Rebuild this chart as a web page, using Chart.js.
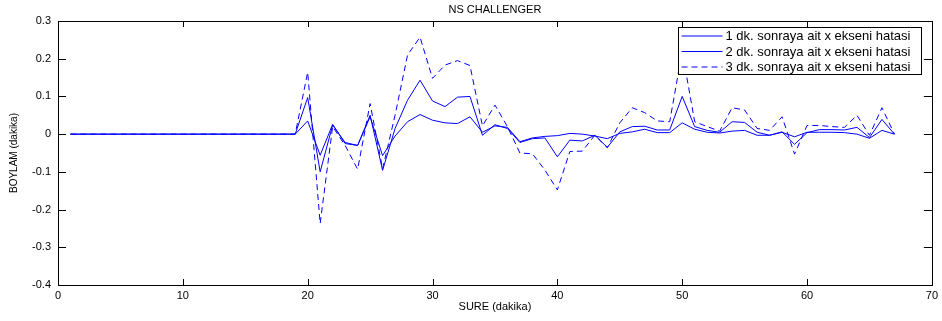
<!DOCTYPE html>
<html>
<head>
<meta charset="utf-8">
<title>NS CHALLENGER</title>
<script src="https://cdn.jsdelivr.net/npm/chart.js@4.4.0/dist/chart.umd.min.js"></script>
<style>
  html, body { margin: 0; padding: 0; background: #fff; }
  #wrap { width: 942px; height: 321px; }
</style>
</head>
<body>
<div id="wrap"><canvas id="nsChart"></canvas></div>
<script>
// zaman (dakika)
const minutes = [1, 2, 3, 4, 5, 6, 7, 8, 9, 10, 11, 12, 13, 14, 15, 16, 17, 18, 19, 20,
  21, 22, 23, 24, 25, 26, 27, 28, 29, 30, 31, 32, 33, 34, 35, 36, 37, 38, 39, 40,
  41, 42, 43, 44, 45, 46, 47, 48, 49, 50, 51, 52, 53, 54, 55, 56, 57, 58, 59, 60,
  61, 62, 63, 64, 65, 66, 67];

// boylam hatasi, 1 / 2 / 3 dk. sonrasi
const err1 = [0, 0, 0, 0, 0, 0, 0, 0, 0, 0, 0, 0, 0, 0, 0, 0, 0, 0, 0, 0.035,
  -0.056, 0.026, -0.025, -0.03, 0.046, -0.057, -0.005, 0.033, 0.052, 0.037,
  0.03, 0.028, 0.046, 0.005, 0.022, 0.018, -0.02, -0.01, -0.006, -0.004,
  0.002, 0, -0.005, -0.012, 0.002, 0.006, 0.013, 0.004, 0.004, 0.03,
  0.013, 0.005, 0.003, 0.008, 0.01, -0.003, -0.003, 0.005, -0.007, 0.005,
  0.005, 0.005, 0.004, 0, -0.011, 0.01, 0];
const err2 = [0, 0, 0, 0, 0, 0, 0, 0, 0, 0, 0, 0, 0, 0, 0, 0, 0, 0, 0, 0.097,
  -0.1, 0.024, -0.022, -0.03, 0.05, -0.096, 0.015, 0.09, 0.143, 0.088,
  0.073, 0.098, 0.1, -0.003, 0.025, 0.015, -0.022, -0.012, -0.01, -0.06,
  -0.016, -0.018, -0.003, -0.035, 0.006, 0.02, 0.021, 0.011, 0.011, 0.1,
  0.02, 0.01, 0.005, 0.033, 0.031, 0.005, -0.003, 0.006, -0.027, 0.004,
  0.012, 0.012, 0.011, 0.018, -0.009, 0.039, 0];
const err3 = [0, 0, 0, 0, 0, 0, 0, 0, 0, 0, 0, 0, 0, 0, 0, 0, 0, 0, 0, 0.164,
  -0.237, 0.02, -0.03, -0.093, 0.081, -0.092, 0.05, 0.21, 0.257, 0.148,
  0.183, 0.195, 0.182, 0.022, 0.077, 0.02, -0.05, -0.052, -0.095, -0.148,
  -0.046, -0.045, -0.003, -0.036, 0.03, 0.07, 0.057, 0.035, 0.033, 0.22,
  0.033, 0.02, 0.008, 0.07, 0.064, 0.015, 0.01, 0.046, -0.053, 0.023,
  0.023, 0.02, 0.018, 0.05, -0.003, 0.07, 0];

const seriesLabels = [
  '1 dk. sonraya ait x ekseni hatasi',
  '2 dk. sonraya ait x ekseni hatasi',
  '3 dk. sonraya ait x ekseni hatasi'
];
const xTicks = [0, 10, 20, 30, 40, 50, 60, 70];
const yTicks = [-0.4, -0.3, -0.2, -0.1, 0, 0.1, 0.2, 0.3];

const FONT = "'Liberation Sans', Arial, sans-serif";
const BLUE = '#0000ff';

// cerceve, iceri bakan tik cizgileri, baslik ve lejant
const matlabAxes = {
  id: 'matlabAxes',
  afterDatasetsDraw(chart) {
    const { ctx, chartArea: a, scales: { x, y } } = chart;
    ctx.save();
    ctx.strokeStyle = '#000';
    ctx.lineWidth = 1;
    ctx.beginPath();
    xTicks.forEach(v => {
      const px = Math.round(x.getPixelForValue(v)) + 0.5;
      ctx.moveTo(px, a.bottom); ctx.lineTo(px, a.bottom - 6);
      ctx.moveTo(px, a.top); ctx.lineTo(px, a.top + 6);
    });
    yTicks.forEach(v => {
      const py = Math.round(y.getPixelForValue(v)) + 0.5;
      ctx.moveTo(a.left, py); ctx.lineTo(a.left + 8, py);
      ctx.moveTo(a.right, py); ctx.lineTo(a.right - 8, py);
    });
    ctx.stroke();
    ctx.strokeRect(Math.round(a.left) + 0.5, Math.round(a.top) + 0.5,
      Math.round(a.right - a.left), Math.round(a.bottom - a.top));

    // baslik
    ctx.fillStyle = '#000';
    ctx.font = '11px ' + FONT;
    ctx.textAlign = 'center';
    ctx.textBaseline = 'middle';
    ctx.fillText('NS CHALLENGER', (a.left + a.right) / 2, 10);

    // lejant kutusu
    const boxW = 243, boxH = 47, rowH = 15.5;
    const bx = Math.round(a.right - 11 - boxW) + 0.5;
    const by = Math.round(a.top + 6) + 0.5;
    ctx.fillStyle = '#fff';
    ctx.fillRect(bx, by, boxW, boxH);
    ctx.strokeStyle = '#000';
    ctx.strokeRect(bx, by, boxW, boxH);
    ctx.font = '13px ' + FONT;
    ctx.textAlign = 'left';
    chart.data.datasets.forEach((ds, i) => {
      const ry = by + 8.5 + i * rowH;
      ctx.strokeStyle = ds.borderColor;
      ctx.lineWidth = ds.borderWidth;
      ctx.setLineDash(ds.borderDash || []);
      ctx.beginPath();
      ctx.moveTo(bx + 3, ry);
      ctx.lineTo(bx + 44, ry);
      ctx.stroke();
      ctx.setLineDash([]);
      ctx.fillStyle = '#000';
      ctx.fillText(ds.label, bx + 47, ry + 0.5);
    });
    ctx.restore();
  }
};

const lineStyle = { borderColor: BLUE, borderWidth: 1, pointRadius: 0, tension: 0, fill: false };

new Chart(document.getElementById('nsChart'), {
  type: 'line',
  data: {
    labels: minutes,
    datasets: [
      { label: seriesLabels[0], data: err1, ...lineStyle },
      { label: seriesLabels[1], data: err2, ...lineStyle },
      { label: seriesLabels[2], data: err3, ...lineStyle, borderDash: [6, 4] }
    ]
  },
  options: {
    responsive: true,
    maintainAspectRatio: false,
    animation: false,
    layout: { padding: { top: 21, right: 9, left: 0, bottom: 0 } },
    plugins: {
      legend: { display: false },
      tooltip: { enabled: false }
    },
    scales: {
      x: {
        type: 'linear',
        min: 0,
        max: 70,
        afterBuildTicks: s => { s.ticks = xTicks.map(v => ({ value: v })); },
        afterFit: s => { s.height = 36; },
        grid: { display: false, drawTicks: false },
        border: { display: false },
        ticks: { padding: 4, color: '#000', font: { family: FONT, size: 11 }, maxRotation: 0 },
        title: {
          display: true, text: 'SURE (dakika)', color: '#000',
          font: { family: FONT, size: 11 }, padding: { top: 0, bottom: 7 }
        }
      },
      y: {
        min: -0.4,
        max: 0.3,
        afterBuildTicks: s => { s.ticks = yTicks.map(v => ({ value: v })); },
        afterFit: s => { s.width = 58; },
        grid: { display: false, drawTicks: false },
        border: { display: false },
        ticks: { padding: 7, color: '#000', font: { family: FONT, size: 11 } },
        title: {
          display: true, text: 'BOYLAM (dakika)', color: '#000',
          font: { family: FONT, size: 10 }, padding: { top: 8, bottom: 0 }
        }
      }
    }
  },
  plugins: [matlabAxes]
});
</script>
</body>
</html>
